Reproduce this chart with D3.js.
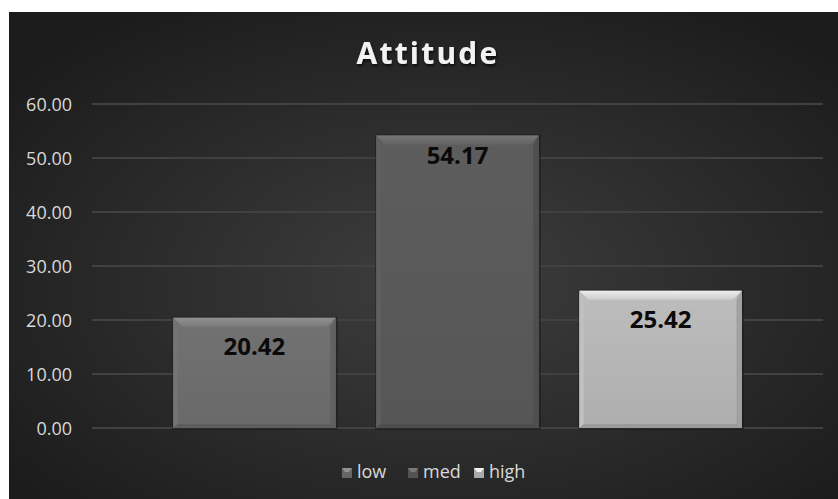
<!DOCTYPE html>
<html>
<head>
<meta charset="utf-8">
<script src="https://cdn.jsdelivr.net/npm/d3@7"></script>
<style>
  html, body { margin: 0; padding: 0; background: #ffffff; }
  svg { display: block; }
</style>
</head>
<body>
<div id="chart"></div>
<script>
// ---- data ----
const title = "Attitude";
const seriesNames = ["low", "med", "high"];
const seriesValues = [20.42, 54.17, 25.42];
const yTicks = [0, 10, 20, 30, 40, 50, 60];
const seriesColors = ["#6e6e6e", "#5a5a5a", "#b6b6b6"];

const W = 838, H = 499;
const svg = d3.select("#chart").append("svg").attr("width", W).attr("height", H);
const defs = svg.append("defs");

// background gradient
const bg = defs.append("radialGradient").attr("id", "bg")
  .attr("cx", "52%").attr("cy", "55%").attr("r", "65%");
bg.append("stop").attr("offset", "0%").attr("stop-color", "#3e3e3e");
bg.append("stop").attr("offset", "100%").attr("stop-color", "#1c1c1c");

svg.append("rect").attr("x", 9).attr("y", 12).attr("width", W - 9).attr("height", H - 12)
  .attr("fill", "url(#bg)");

const fontFamily = "'Open Sans', 'DejaVu Sans', sans-serif";

// title
const shadow = defs.append("filter").attr("id", "tshadow").attr("x", "-10%").attr("y", "-20%").attr("width", "120%").attr("height", "150%");
shadow.append("feDropShadow").attr("dx", 1).attr("dy", 2).attr("stdDeviation", 1.5)
  .attr("flood-color", "#000").attr("flood-opacity", 0.7);

svg.append("text").attr("x", 428).attr("y", 64)
  .attr("text-anchor", "middle")
  .attr("font-family", fontFamily).attr("font-weight", "bold")
  .attr("font-size", 30).attr("letter-spacing", "2.2px")
  .attr("fill", "#f2f2f2").attr("filter", "url(#tshadow)")
  .text(title);

// scales
const plotL = 92, plotR = 823;
const y = d3.scaleLinear().domain([0, 60]).range([428, 104]);
const x0 = d3.scaleBand().domain(["all"]).range([plotL, plotR]).padding(0);
const x1 = d3.scaleBand().domain(seriesNames).range([x0("all"), x0("all") + x0.bandwidth()])
  .paddingInner(0.2).paddingOuter(0.4);

// gridlines
const grid = svg.append("g");
grid.selectAll("line").data(yTicks).join("line")
  .attr("x1", plotL).attr("x2", plotR)
  .attr("y1", d => y(d)).attr("y2", d => y(d))
  .attr("stroke", "#414141").attr("stroke-width", 2);

// y axis
const yAxis = d3.axisLeft(y).tickValues(yTicks).tickFormat(d3.format(".2f")).tickSize(0).tickPadding(0);
const yg = svg.append("g").attr("transform", "translate(72,0)").call(yAxis);
yg.select(".domain").remove();
yg.selectAll("text")
  .attr("font-family", fontFamily).attr("font-size", 18)
  .attr("fill", "#d9d9d9").attr("dy", "0.36em");

// bars with bevel
const data = seriesNames.map((n, i) => ({ name: n, value: seriesValues[i], color: seriesColors[i], i }));

data.forEach(d => {
  const c = d3.color(d.color);
  const g = defs.append("linearGradient").attr("id", "bar" + d.i)
    .attr("x1", 0).attr("y1", 0).attr("x2", 0).attr("y2", 1);
  g.append("stop").attr("offset", "0%").attr("stop-color", c.brighter(0.1));
  g.append("stop").attr("offset", "100%").attr("stop-color", c.darker(0.12));
  const t = defs.append("linearGradient").attr("id", "top" + d.i)
    .attr("x1", 0).attr("y1", 0).attr("x2", 0).attr("y2", 1);
  t.append("stop").attr("offset", "0%").attr("stop-color", c.brighter(0.75));
  t.append("stop").attr("offset", "100%").attr("stop-color", c.brighter(0.3));
});

const bars = svg.append("g");
const bevel = 9;
data.forEach(d => {
  const bx = x1(d.name), bw = x1.bandwidth();
  const by = y(d.value), bh = y(0) - y(d.value);
  const c = d3.color(d.color);
  const bg = bars.append("g");
  bg.append("rect").attr("x", bx - 1).attr("y", by - 1).attr("width", bw + 3).attr("height", bh + 3)
    .attr("fill", "#1a1a1a").attr("opacity", 0.6);
  bg.append("rect").attr("x", bx).attr("y", by).attr("width", bw).attr("height", bh)
    .attr("fill", "url(#bar" + d.i + ")");
  bg.append("path")
    .attr("d", `M${bx},${by} L${bx + bw},${by} L${bx + bw - bevel},${by + bevel} L${bx + bevel},${by + bevel} Z`)
    .attr("fill", "url(#top" + d.i + ")");
  bg.append("path")
    .attr("d", `M${bx},${by} L${bx + bevel * 0.5},${by + bevel} L${bx + bevel * 0.5},${by + bh - 3} L${bx},${by + bh} Z`)
    .attr("fill", c.brighter(0.15));
  bg.append("path")
    .attr("d", `M${bx + bw},${by} L${bx + bw - bevel * 0.6},${by + bevel} L${bx + bw - bevel * 0.6},${by + bh - 4} L${bx + bw},${by + bh} Z`)
    .attr("fill", c.darker(0.35));
  bg.append("path")
    .attr("d", `M${bx},${by + bh} L${bx + bevel * 0.5},${by + bh - 4} L${bx + bw - bevel * 0.6},${by + bh - 4} L${bx + bw},${by + bh} Z`)
    .attr("fill", c.darker(0.45));
});

// data labels
const labelDy = [37, 29, 37];
svg.append("g").selectAll("text").data(data).join("text")
  .attr("x", d => x1(d.name) + x1.bandwidth() / 2)
  .attr("y", d => y(d.value) + labelDy[d.i])
  .attr("text-anchor", "middle")
  .attr("font-family", fontFamily).attr("font-weight", "bold").attr("font-size", 24)
  .attr("fill", "#0a0a0a")
  .text(d => d3.format(".2f")(d.value));

// legend
const legendX = [342, 408, 474];
const lg = svg.append("g");
data.forEach(d => {
  const c = d3.color(d.color);
  const lx = legendX[d.i];
  lg.append("rect").attr("x", lx).attr("y", 468).attr("width", 10).attr("height", 10).attr("fill", c.darker(0.2));
  lg.append("path").attr("d", `M${lx},468 L${lx + 10},468 L${lx + 7},472 L${lx + 3},472 Z`).attr("fill", c.brighter(0.8));
  lg.append("text").attr("x", lx + 15).attr("y", 478)
    .attr("font-family", fontFamily).attr("font-size", 18).attr("fill", "#d9d9d9")
    .text(d.name);
});
</script>
</body>
</html>
